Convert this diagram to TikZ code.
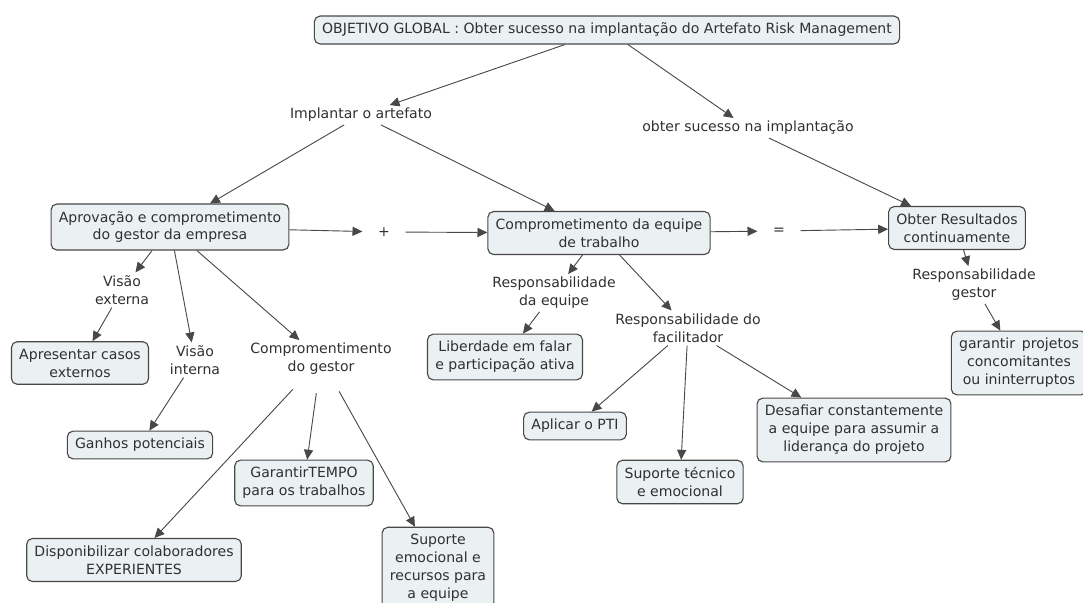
\documentclass[tikz,border=0pt]{standalone}
\usepackage{fontspec}
\setmainfont{DejaVu Sans}
\usepackage{xcolor}
\usetikzlibrary{arrows.meta,shapes}
\definecolor{cmapfill}{HTML}{EBF1F3}
\definecolor{cmapline}{HTML}{484848}
\definecolor{cmaptext}{HTML}{303030}

\tikzset{
  concept/.style={draw=cmapline,fill=cmapfill,rounded corners=4pt,line width=0.8pt,
    align=center,inner xsep=5.5pt,inner ysep=5pt,text=cmaptext,
    font=\fontsize{10}{12.8}\selectfont},
  phrase/.style={align=center,inner sep=2pt,text=cmaptext,
    font=\fontsize{10}{12.8}\selectfont},
  link/.style={draw=cmapline,line width=0.65pt,-{Triangle[length=7pt,width=6.5pt]}}
}

\begin{document}
\begin{tikzpicture}[x=0.025cm,y=-0.025cm]
\useasboundingbox (0,0) rectangle (1083,603);
% concepts
\node[concept] (root) at (607,30) {OBJETIVO GLOBAL : Obter sucesso na implantação do Artefato Risk Management};
\node[concept] (aprov) at (170,227) {Aprovação e comprometimento\\do gestor da empresa};
\node[concept] (compeq) at (599,233) {Comprometimento da equipe\\de trabalho};
\node[concept] (result) at (957,228) {Obter Resultados\\continuamente};
\node[concept] (apres) at (80,363) {Apresentar casos\\externos};
\node[concept] (ganhos) at (140,445) {Ganhos potenciais};
\node[concept] (tempo) at (304,483) {GarantirTEMPO\\para os trabalhos};
\node[concept] (dispo) at (134,560) {Disponibilizar colaboradores\\EXPERIENTES};
\node[concept] (supem) at (438,568) {Suporte\\emocional e\\recursos para\\a equipe};
\node[concept] (liber) at (505,357) {Liberdade em falar\\e participação ativa};
\node[concept] (aplicar) at (575,426) {Aplicar o PTI};
\node[concept] (suptec) at (680,482) {Suporte técnico\\e emocional};
\node[concept] (desaf) at (854,430) {Desafiar constantemente\\a equipe para assumir a\\liderança do projeto};
\node[concept] (garantir) at (1019,363) {garantir\,\ projetos\\concomitantes\\ou ininterruptos};
% linking phrases
\node[phrase] (impl) at (361,115) {Implantar o artefato};
\node[phrase] (obter) at (748,128) {obter sucesso na implantação};
\node[phrase,inner xsep=11pt] (plus) at (384,232) {+};
\node[phrase,inner xsep=11pt] (eq) at (779,231) {=};
\node[phrase] (vext) at (122,290) {Visão\\externa};
\node[phrase] (vint) at (195,360) {Visão\\interna};
\node[phrase] (compg) at (321,359) {Compromentimento\\do gestor};
\node[phrase] (respeq) at (554,293) {Responsabilidade\\da equipe};
\node[phrase] (respfac) at (688,328) {Responsabilidade do\\facilitador};
\node[phrase] (respg) at (974,285) {Responsabilidade\\gestor};
% connectors
\draw[link] (root) -- (impl);
\draw[link] (root) -- (obter);
\draw[link] (impl) -- (aprov);
\draw[link] (impl) -- (compeq);
\draw[link] (obter) -- (result);
\draw[link] (aprov) -- (plus);
\draw[link] (plus) -- (compeq);
\draw[link] (compeq) -- (eq);
\draw[link] (eq) -- (result);
\draw[link] (aprov) -- (vext);
\draw[link] (vext) -- (apres);
\draw[link] (aprov) -- (vint);
\draw[link] (vint) -- (ganhos);
\draw[link] (aprov) -- (compg);
\draw[link,shorten <=11pt] (compg) -- (dispo);
\draw[link,shorten <=11pt] (compg) -- (tempo);
\draw[link,shorten <=11pt] (compg) -- (supem);
\draw[link] (compeq) -- (respeq);
\draw[link] (respeq) -- (liber);
\draw[link] (compeq) -- (respfac);
\draw[link] (respfac) -- (aplicar);
\draw[link] (respfac) -- (suptec);
\draw[link] (respfac) -- (desaf);
\draw[link] (result) -- (respg);
\draw[link] (respg) -- (garantir);
\end{tikzpicture}
\end{document}
